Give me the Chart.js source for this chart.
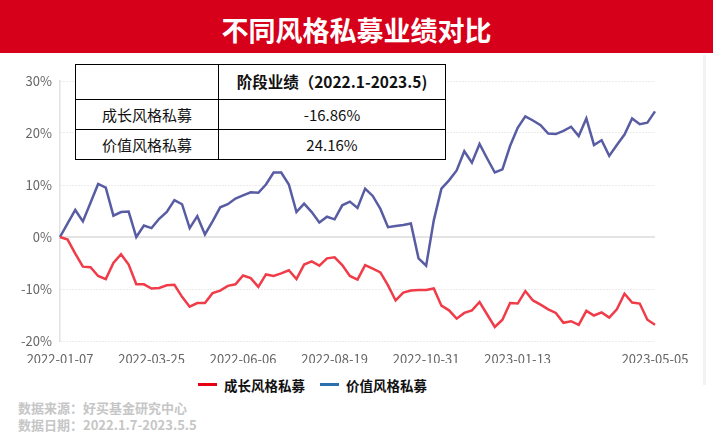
<!DOCTYPE html>
<html><head><meta charset="utf-8">
<script src="https://cdn.jsdelivr.net/npm/chart.js@4"></script>
<style>
body{margin:0;width:713px;height:442px;background:#fff;position:relative;overflow:hidden;font-family:"Noto Sans CJK SC","Noto Sans",sans-serif;}
#title{position:absolute;left:0;top:0;width:713px;height:53px;background:#d7001a;color:#fff;font-weight:bold;font-size:27px;line-height:60px;text-align:center;letter-spacing:0px;}
#wrap{position:absolute;left:0;top:60px;width:713px;height:303px;}
#strip{position:absolute;left:703px;top:55px;width:3px;height:330px;background:#f2f2f2;}
table{position:absolute;left:75px;top:64px;border-collapse:collapse;background:#fff;font-size:15px;color:#111;}
td{border:1.5px solid #000;text-align:center;padding:0;line-height:1;}
tr.h td{height:34px;font-weight:bold;font-size:15.5px;}
tr.r td{height:29px;}
#legend{position:absolute;left:198px;top:370px;font-size:13.5px;font-weight:bold;color:#111;white-space:nowrap;}
#legend span.it{display:inline-flex;align-items:center;margin-right:15px;}
#legend i{display:inline-block;width:19px;height:3px;margin-right:7px;}
.foot{position:absolute;left:18px;font-size:13px;font-weight:bold;color:#c6c6c6;white-space:nowrap;}
</style></head>
<body>
<div id="title">不同风格私募业绩对比</div>
<div id="strip"></div>
<div id="wrap"><canvas id="c" width="713" height="303"></canvas></div>
<table>
<tr class="h"><td style="width:142px"></td><td style="width:226px">阶段业绩（2022.1-2023.5)</td></tr>
<tr class="r"><td>成长风格私募</td><td>-16.86%</td></tr>
<tr class="r"><td>价值风格私募</td><td>24.16%</td></tr>
</table>
<div id="legend"><span class="it"><i style="background:#e60012"></i>成长风格私募</span><span class="it"><i style="background:#2e6fb0"></i>价值风格私募</span></div>
<div class="foot" style="top:398px">数据来源：好买基金研究中心</div>
<div class="foot" style="top:415px">数据日期：2022.1.7-2023.5.5</div>
<script>
const dates = [
"2022-01-07","2022-01-14","2022-01-21","2022-01-28","2022-02-07","2022-02-11","2022-02-18","2022-02-25","2022-02-28","2022-03-04","2022-03-11","2022-03-18","2022-03-25",
"2022-03-31","2022-04-01","2022-04-08","2022-04-15","2022-04-22","2022-04-29","2022-05-06","2022-05-13","2022-05-20","2022-05-27","2022-05-31",
"2022-06-06",
"2022-06-10","2022-06-17","2022-06-24","2022-06-30","2022-07-01","2022-07-08","2022-07-15","2022-07-22","2022-07-29","2022-08-05","2022-08-12",
"2022-08-19",
"2022-08-26","2022-08-31","2022-09-02","2022-09-09","2022-09-16","2022-09-23","2022-09-30","2022-10-10","2022-10-14","2022-10-21","2022-10-28",
"2022-10-31",
"2022-11-04","2022-11-11","2022-11-18","2022-11-25","2022-11-30","2022-12-02","2022-12-09","2022-12-16","2022-12-23","2022-12-30","2023-01-06",
"2023-01-13",
"2023-01-20","2023-01-31","2023-02-03","2023-02-10","2023-02-17","2023-02-24","2023-02-28","2023-03-03","2023-03-10","2023-03-17","2023-03-24","2023-03-31","2023-04-07","2023-04-14","2023-04-21","2023-04-26","2023-04-28",
"2023-05-05"
];
const growthFund = [0,-0.5,-3.2,-5.7,-5.8,-7.5,-8.1,-5.0,-3.3,-5.3,-9.1,-9.1,-9.9,-9.8,-9.3,-9.2,-11.5,-13.4,-12.7,-12.7,
-10.8,-10.3,-9.4,-9.1,-7.4,-7.9,-9.6,-7.2,-7.5,-7.0,-6.4,-8.1,-5.3,-4.7,-5.5,-4.1,-3.9,-5.4,-7.5,-8.2,
-5.4,-6.1,-6.8,-9.3,-12.2,-10.7,-10.3,-10.2,-10.2,-9.9,-13.2,-14.1,-15.7,-14.6,-14.1,-12.5,-14.9,-17.3,-15.9,-12.7,
-12.8,-10.4,-12.2,-13.0,-13.9,-14.6,-16.5,-16.2,-16.9,-14.2,-15.1,-14.5,-15.5,-13.9,-10.9,-12.6,-12.8,-15.9,-16.86];
const valueFund = [0,2.6,5.2,3.0,6.6,10.2,9.5,4.1,4.8,4.9,0,2.2,1.7,3.5,4.8,7.1,6.3,1.7,4.0,0.5,
3.0,5.7,6.3,7.4,8.0,8.6,8.5,10.1,12.4,12.4,10.1,4.8,6.4,4.8,2.8,3.9,3.4,6.1,6.8,5.6,
9.3,7.9,5.4,1.9,2.1,2.3,2.6,-4.1,-5.5,3.2,9.3,10.9,12.8,16.5,14.3,17.9,15.1,12.4,13.0,17.5,
21.0,23.2,22.4,21.5,19.9,19.8,20.4,21.2,19.4,22.8,17.7,18.6,15.6,17.7,19.7,22.8,21.7,22.0,24.16];
const seriesNames = ["成长风格私募","价值风格私募"];
const shownDateIdx = [0,12,24,36,48,60,78];
const yMin = -20, yMax = 30, yStep = 10;

const zeroLine = {
  id:'zeroLine',
  beforeDatasetsDraw(chart){
    const {ctx, chartArea, scales} = chart;
    const y = scales.y.getPixelForValue(0);
    ctx.save();
    ctx.strokeStyle = '#e4e4e4';
    ctx.lineWidth = 2;
    ctx.beginPath(); ctx.moveTo(chartArea.left, y); ctx.lineTo(chartArea.right, y); ctx.stroke();
    ctx.restore();
  }
};

new Chart(document.getElementById('c'), {
  type:'line',
  data:{
    labels: dates,
    datasets:[
      {label:seriesNames[0], data:growthFund, borderColor:'#f03c48', borderWidth:2.5, pointRadius:0, tension:0},
      {label:seriesNames[1], data:valueFund, borderColor:'#585ca2', borderWidth:2.5, pointRadius:0, tension:0}
    ]
  },
  options:{
    responsive:false, animation:false, devicePixelRatio:1,
    layout:{padding:{left:0,right:58,top:21,bottom:0}},
    plugins:{legend:{display:false}, tooltip:{enabled:false}},
    scales:{
      x:{
        type:'category',
        grid:{display:false},
        border:{display:false},
        afterFit(s){ s.height = 22; },
        ticks:{autoSkip:false, maxRotation:0, minRotation:0, padding:2, color:'#666',
          font:{size:13, family:'"Noto Sans CJK SC","Noto Sans",sans-serif'},
          callback(v,i){ return shownDateIdx.includes(i) ? dates[i] : null; }}
      },
      y:{
        min:yMin, max:yMax,
        afterFit(s){ s.width = 60; },
        grid:{color:(c)=> c.tick && c.tick.value===0 ? 'rgba(0,0,0,0)' : '#d6d6d6', lineWidth:1, drawTicks:false},
        border:{display:true, color:'#e2e2e2', width:1.5, dash:[1,2]},
        ticks:{stepSize:yStep, padding:8, color:'#666',
          font:{size:13, family:'"Noto Sans CJK SC","Noto Sans",sans-serif'},
          callback:(v)=> v + '%'}
      }
    }
  },
  plugins:[zeroLine]
});
</script>
</body></html>
